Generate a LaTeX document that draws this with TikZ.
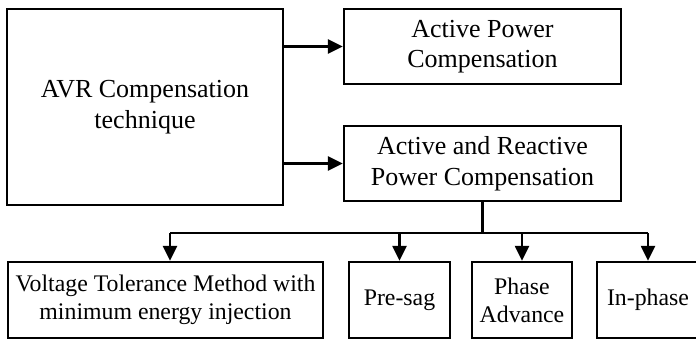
\documentclass[tikz,border=0pt]{standalone}
\usepackage{fontspec}
\setmainfont{Liberation Serif}
\usepackage{tikz}
\usetikzlibrary{arrows.meta,calc,positioning}
\definecolor{ink}{HTML}{000000}
\definecolor{paper}{HTML}{FFFFFF}
\tikzset{
  flowarr/.style={-{Triangle[length=15pt,width=14pt]},line width=2.3pt,color=ink},
  busline/.style={line width=2.3pt,color=ink},
  blockcard/.style={draw=ink,fill=paper,line width=2.3pt,align=center,inner sep=2pt,
    font=\rmfamily\fontsize{26pt}{30.5pt}\selectfont},
  leafcard/.style={blockcard,font=\rmfamily\fontsize{23.8pt}{28pt}\selectfont}
}

\begin{document}
\begin{tikzpicture}[x=1pt,y=-1pt]
  \useasboundingbox (0,0) rectangle (696,340);
  \node[blockcard,minimum width=276pt,minimum height=196pt] (avr) at (145,107) {AVR Compensation\\technique};
  \node[blockcard,minimum width=277pt,minimum height=75pt] (ap) at (482.5,46.5) {Active Power\\Compensation};
  \node[blockcard,minimum width=277pt,minimum height=75pt] (arp) at (482.5,163.5) {Active and Reactive\\Power Compensation};
  \node[leafcard,minimum width=315pt,minimum height=76pt] (vtm) at (165.5,300) {Voltage Tolerance Method with\\minimum energy injection};
  \node[leafcard,minimum width=101pt,minimum height=76pt] (presag) at (399.5,300) {Pre-sag};
  \node[leafcard,minimum width=100pt,minimum height=76pt] (phadv) at (522,300) {Phase\\Advance};
  \node[leafcard,minimum width=102pt,minimum height=76pt] (inph) at (648,300) {In-phase};
  \draw[flowarr] (avr.east |- ap.west) -- (ap.west);
  \draw[flowarr] (avr.east |- arp.west) -- (arp.west);
  \coordinate (bus) at ($(arp.south)+(0,31)$);
  \draw[busline] (arp.south) -- (bus);
  \draw[busline] ([xshift=4.5pt]vtm.north |- bus) -- (inph.north |- bus);
  \draw[flowarr] ([xshift=4.5pt]vtm.north |- bus) -- ([xshift=4.5pt]vtm.north);
  \draw[flowarr] (presag.north |- bus) -- (presag.north);
  \draw[flowarr] (phadv.north |- bus) -- (phadv.north);
  \draw[flowarr] (inph.north |- bus) -- (inph.north);
\end{tikzpicture}
\end{document}
